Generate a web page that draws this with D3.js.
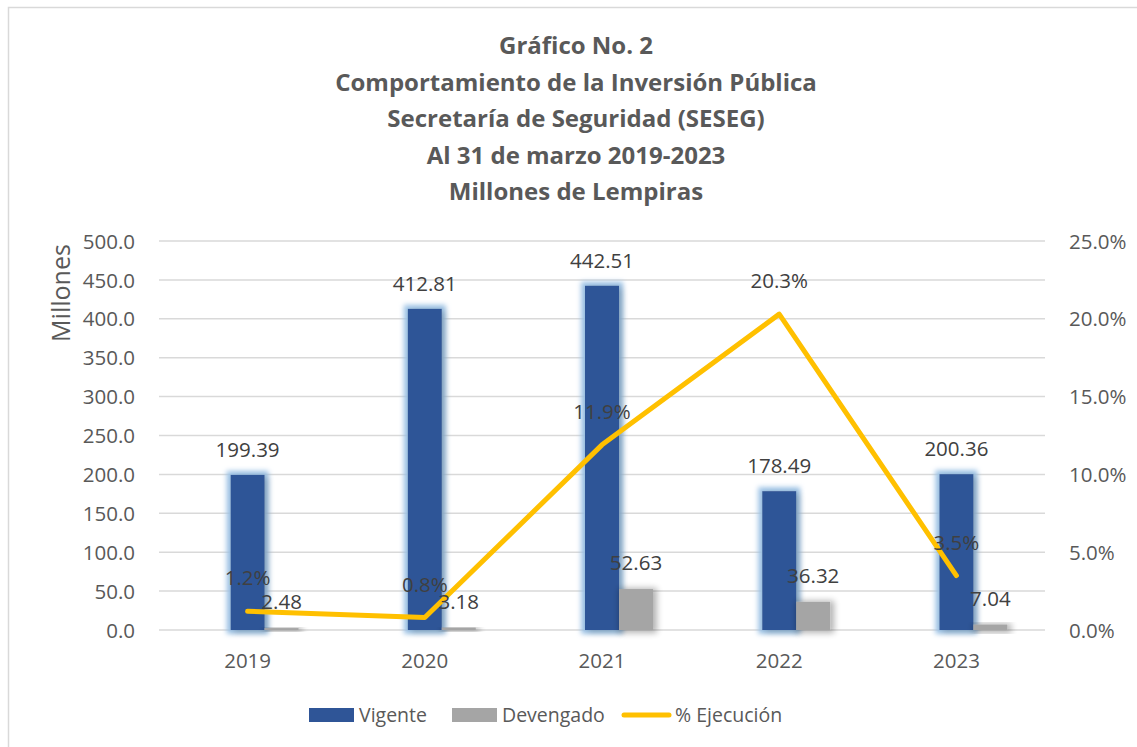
<!DOCTYPE html>
<html>
<head>
<meta charset="utf-8">
<script src="https://cdn.jsdelivr.net/npm/d3@7"></script>
<style>
  body { margin: 0; background: #fff; }
  text { font-family: "Open Sans", sans-serif; }
</style>
</head>
<body>
<script>

// data
var years = ["2019", "2020", "2021", "2022", "2023"];
var vigente = [199.39, 412.81, 442.51, 178.49, 200.36];
var devengado = [2.48, 3.18, 52.63, 36.32, 7.04];
var ejecucion = [1.2, 0.8, 11.9, 20.3, 3.5];
var leftTicks = [0, 50, 100, 150, 200, 250, 300, 350, 400, 450, 500];
var rightTicks = [0, 5, 10, 15, 20, 25];
var titleLines = ["Gráfico No. 2", "Comportamiento de la Inversión Pública", "Secretaría de Seguridad (SESEG)", "Al 31 de marzo 2019-2023", "Millones de Lempiras"];

var width = 1137, height = 747;
var plot = {left: 159, right: 1045, top: 241, bottom: 630};

var svg = d3.select("body").append("svg")
            .attr("width", width)
            .attr("height", height);

var defs = svg.append("defs");

// blue glow round the Vigente bars, with a soft shadow
var glow = defs.append("filter").attr("id", "glow")
  .attr("x", "-60%").attr("y", "-20%").attr("width", "220%").attr("height", "140%");
glow.append("feGaussianBlur").attr("in", "SourceAlpha").attr("stdDeviation", 3).attr("result", "sb");
glow.append("feOffset").attr("in", "sb").attr("dx", 3).attr("dy", 2).attr("result", "so");
glow.append("feComponentTransfer").attr("in", "so").attr("result", "sh")
  .append("feFuncA").attr("type", "linear").attr("slope", 0.4);
glow.append("feMorphology").attr("in", "SourceAlpha").attr("operator", "dilate").attr("radius", 4).attr("result", "dil");
glow.append("feGaussianBlur").attr("in", "dil").attr("stdDeviation", 2.5).attr("result", "blur");
glow.append("feFlood").attr("flood-color", "#9DC3E6").attr("result", "col");
glow.append("feComposite").attr("in", "col").attr("in2", "blur").attr("operator", "in").attr("result", "g");
var m1 = glow.append("feMerge");
m1.append("feMergeNode").attr("in", "g");
m1.append("feMergeNode").attr("in", "sh");
m1.append("feMergeNode").attr("in", "SourceGraphic");

// soft shadow round the Devengado bars
var shadow = defs.append("filter").attr("id", "shadow")
  .attr("x", "-60%").attr("y", "-60%").attr("width", "220%").attr("height", "220%");
shadow.append("feMorphology").attr("in", "SourceAlpha").attr("operator", "dilate").attr("radius", 2).attr("result", "d");
shadow.append("feGaussianBlur").attr("in", "d").attr("stdDeviation", 3).attr("result", "b");
shadow.append("feOffset").attr("in", "b").attr("dx", 2).attr("dy", 1).attr("result", "o");
shadow.append("feComponentTransfer").attr("in", "o").attr("result", "s")
  .append("feFuncA").attr("type", "linear").attr("slope", 0.3);
var m2 = shadow.append("feMerge");
m2.append("feMergeNode").attr("in", "s");
m2.append("feMergeNode").attr("in", "SourceGraphic");

// chart frame
svg.append("rect")
   .attr("x", 8.5).attr("y", 7.5)
   .attr("width", 1200).attr("height", 800)
   .attr("fill", "white")
   .attr("stroke", "#D9D9D9")
   .attr("stroke-width", 1.5);

// title
svg.append("g").selectAll("text")
   .data(titleLines)
  .enter().append("text")
   .attr("x", 576)
   .attr("y", function(d, i) { return 54 + i * 36.5; })
   .attr("text-anchor", "middle")
   .style("font-size", "24px")
   .style("font-weight", "bold")
   .style("fill", "#595959")
   .text(function(d) { return d; });

// scales
var x = d3.scaleBand().domain(years).range([plot.left, plot.right]);
var y = d3.scaleLinear().domain([0, 500]).range([plot.bottom, plot.top]);
var y2 = d3.scaleLinear().domain([0, 25]).range([plot.bottom, plot.top]);
var barW = 34;

// gridlines
svg.append("g").selectAll("line")
   .data(leftTicks)
  .enter().append("line")
   .attr("x1", plot.left).attr("x2", plot.right)
   .attr("y1", function(d) { return y(d); })
   .attr("y2", function(d) { return y(d); })
   .style("stroke", "#D9D9D9")
   .style("stroke-width", 1.5);

// left axis
var leftAxis = svg.append("g")
   .attr("transform", "translate(" + (plot.left - 21) + ",0)")
   .call(d3.axisLeft(y).tickValues(leftTicks).tickFormat(d3.format(".1f")).tickSize(0));
leftAxis.select(".domain").remove();
leftAxis.selectAll("text").style("font-size", "20.5px").style("fill", "#595959").attr("dy", "0.35em");

// right axis
var rightAxis = svg.append("g")
   .attr("transform", "translate(" + (plot.right + 21) + ",0)")
   .call(d3.axisRight(y2).tickValues(rightTicks).tickFormat(function(d) { return d.toFixed(1) + "%"; }).tickSize(0));
rightAxis.select(".domain").remove();
rightAxis.selectAll("text").style("font-size", "20.5px").style("fill", "#595959").attr("dy", "0.35em");

// bottom axis
var bottomAxis = svg.append("g")
   .attr("transform", "translate(0," + (plot.bottom + 20) + ")")
   .call(d3.axisBottom(x).tickSize(0));
bottomAxis.select(".domain").remove();
bottomAxis.selectAll("text").style("font-size", "20.5px").style("fill", "#595959").attr("dy", "0.71em");

// y title
svg.append("text")
   .attr("transform", "translate(70,293) rotate(-90)")
   .attr("text-anchor", "middle")
   .style("font-size", "25px")
   .style("fill", "#595959")
   .text("Millones");

function center(i) { return x(years[i]) + x.bandwidth() / 2; }

// Vigente bars
svg.append("g").selectAll("rect")
   .data(vigente)
  .enter().append("rect")
   .attr("x", function(d, i) { return center(i) - barW / 2; })
   .attr("y", function(d) { return y(d); })
   .attr("width", barW)
   .attr("height", function(d) { return plot.bottom - y(d); })
   .attr("fill", "#2F5597")
   .attr("filter", "url(#glow)");

// Devengado bars
svg.append("g").selectAll("rect")
   .data(devengado)
  .enter().append("rect")
   .attr("x", function(d, i) { return center(i) + barW / 2; })
   .attr("y", function(d) { return y(d); })
   .attr("width", barW)
   .attr("height", function(d) { return Math.max(plot.bottom - y(d), 1); })
   .attr("fill", "#A5A5A5")
   .attr("filter", "url(#shadow)");

// % Ejecucion line
var line = d3.line()
   .x(function(d, i) { return center(i); })
   .y(function(d) { return y2(d); });

svg.append("path")
   .datum(ejecucion)
   .attr("d", line)
   .attr("fill", "none")
   .attr("stroke", "#FFC000")
   .attr("stroke-width", 5)
   .attr("stroke-linecap", "round")
   .attr("stroke-linejoin", "round");

// value labels
var labelStyle = function(sel) {
  sel.attr("text-anchor", "middle")
     .style("font-size", "20.5px")
     .style("fill", "#404040");
};

svg.append("g").selectAll("text")
   .data(vigente)
  .enter().append("text")
   .attr("x", function(d, i) { return center(i); })
   .attr("y", function(d) { return y(d) - 18; })
   .call(labelStyle)
   .text(function(d) { return d.toFixed(2); });

svg.append("g").selectAll("text")
   .data(devengado)
  .enter().append("text")
   .attr("x", function(d, i) { return center(i) + barW; })
   .attr("y", function(d) { return y(d) - 19; })
   .call(labelStyle)
   .text(function(d) { return d.toFixed(2); });

svg.append("g").selectAll("text")
   .data(ejecucion)
  .enter().append("text")
   .attr("x", function(d, i) { return center(i); })
   .attr("y", function(d) { return y2(d) - 26; })
   .call(labelStyle)
   .text(function(d) { return d.toFixed(1) + "%"; });

// legend
var legend = svg.append("g").attr("transform", "translate(0,715)");
legend.append("rect").attr("x", 309).attr("y", -7).attr("width", 45).attr("height", 14).attr("fill", "#2F5597");
legend.append("text").attr("x", 359).attr("y", 0).attr("dy", "0.35em").style("font-size", "19.5px").style("fill", "#595959").text("Vigente");
legend.append("rect").attr("x", 452).attr("y", -7).attr("width", 45).attr("height", 14).attr("fill", "#A5A5A5");
legend.append("text").attr("x", 502).attr("y", 0).attr("dy", "0.35em").style("font-size", "19.5px").style("fill", "#595959").text("Devengado");
legend.append("line").attr("x1", 624).attr("x2", 669).attr("y1", 0).attr("y2", 0)
      .attr("stroke", "#FFC000").attr("stroke-width", 5).attr("stroke-linecap", "round");
legend.append("text").attr("x", 675).attr("y", 0).attr("dy", "0.35em").style("font-size", "19.5px").style("fill", "#595959").text("% Ejecución");

</script>
</body>
</html>
